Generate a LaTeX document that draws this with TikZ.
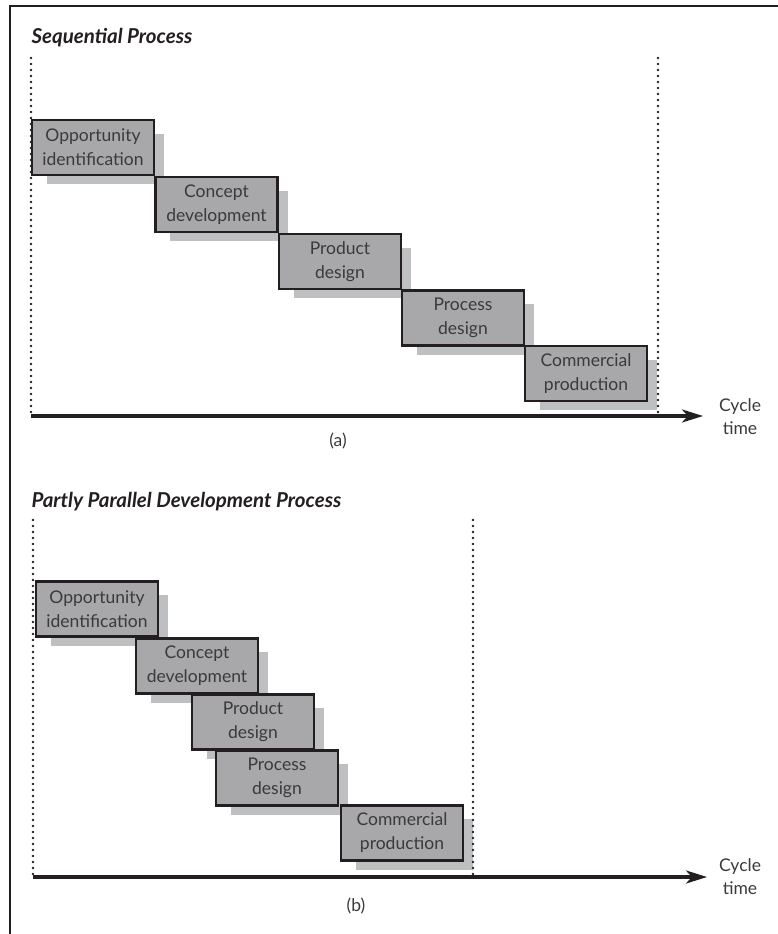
\documentclass[tikz,border=0pt]{standalone}
\usepackage{fontspec}
\setmainfont{Lato}
\usetikzlibrary{arrows.meta,calc,positioning,backgrounds}
\definecolor{boxgray}{HTML}{A8A8AB}
\definecolor{shadegray}{HTML}{BEBFC1}
\definecolor{inkgray}{HTML}{3A3A3A}
\definecolor{inkblack}{HTML}{231F20}
\tikzset{
  stage/.style={rectangle,draw=inkblack,fill=boxgray,line width=2.9pt,
    minimum width=122pt,minimum height=55pt,inner sep=0pt,align=center,
    text=inkgray,font=\fontsize{17.5}{24}\selectfont},
  shade/.style={fill=shadegray,draw=none},
  dotline/.style={draw=inkblack,line width=2.8pt,line cap=round,dash pattern=on 0pt off 6pt},
  timeaxis/.style={draw=inkblack,line width=3.3pt,-{Stealth[length=21pt,width=13pt,inset=6pt]}},
  frameline/.style={draw=inkblack,line width=2.8pt},
  ttl/.style={anchor=west,text=inkblack,font=\fontsize{20.5}{22}\selectfont\bfseries\itshape},
  lb/.style={text=inkgray,font=\fontsize{17.5}{23}\selectfont,align=center},
}
% the stage boxes cast a flat grey shadow down and to the right
\newcommand{\castshade}[1]{%
  \fill[shade] ($(#1.south west)+(16,8)$) rectangle ($(#1.north east)+(9,15)$);}

\begin{document}
\begin{tikzpicture}[x=1pt,y=-1pt]
\useasboundingbox (0,0) rectangle (778,934);
% ---- frame (open to the right and below)
\coordinate (ftl) at (10,6);
\coordinate (ftr) at (790,6);
\coordinate (fbl) at (10,945);
\draw[frameline] (ftr) -- (ftl) -- (fbl);

% ---- (a) sequential
\node[ttl] (ta) at (28,38) {Sequential Process};
\node[stage] (a1) at (93,147.5) {Opportunity\\identification};
\node[stage] (a2) at (216.5,204.5) {Concept\\development};
\node[stage] (a3) at (340,261.5) {Product\\design};
\node[stage] (a4) at (463,318) {Process\\design};
\node[stage] (a5) at (586,373.5) {Commercial\\production};
\begin{scope}[on background layer]
\foreach \s in {a1,a2,a3,a4,a5} {\castshade{\s}}
\end{scope}
\coordinate (oa) at (31,416); \coordinate (ea) at (703,416);
\coordinate (la) at (31,58);  \coordinate (ra) at (658,58);
\coordinate (rab) at (658,413);
\draw[dotline] (la) -- (oa);
\draw[dotline] (ra) -- (rab);
\draw[timeaxis] (oa) -- (ea);
\node[lb] (cya) at (740,416.5) {Cycle\\time};
\node[lb] (capa) at (338,441) {(a)};

% ---- (b) partly parallel
\node[ttl] (tb) at (28,502) {Partly Parallel Development Process};
\node[stage] (b1) at (97,609) {Opportunity\\identification};
\node[stage] (b2) at (197,666) {Concept\\development};
\node[stage] (b3) at (253,722) {Product\\design};
\node[stage] (b4) at (277,778) {Process\\design};
\node[stage] (b5) at (402,833) {Commercial\\production};
\begin{scope}[on background layer]
\foreach \s in {b1,b2,b3,b4,b5} {\castshade{\s}}
\end{scope}
\coordinate (ob) at (33,877); \coordinate (eb) at (707,877);
\coordinate (lb) at (33,520); \coordinate (rb) at (473,520);
\coordinate (rbb) at (473,875);
\draw[dotline] (lb) -- (ob);
\draw[dotline] (rb) -- (rbb);
\draw[timeaxis] (ob) -- (eb);
\node[lb] (cyb) at (740,877) {Cycle\\time};
\node[lb] (capb) at (356,906) {(b)};
\end{tikzpicture}
\end{document}
